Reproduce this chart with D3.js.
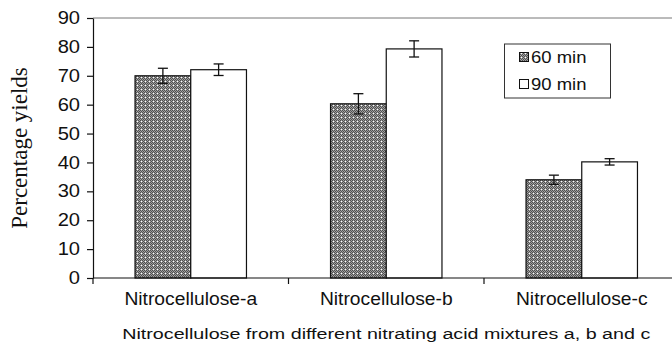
<!DOCTYPE html>
<html><head><meta charset="utf-8">
<script src="https://cdn.jsdelivr.net/npm/d3@7"></script>
<style>body{margin:0;background:#fff;}svg{display:block;}</style>
</head><body>
<svg id="c" width="672" height="343"></svg>
<script>
const categories = ["Nitrocellulose-a", "Nitrocellulose-b", "Nitrocellulose-c"];
const seriesNames = ["60 min", "90 min"];
const values60 = [70.0, 60.3, 34.0];
const values90 = [72.1, 79.3, 40.2];
const err60 = [2.6, 3.5, 1.6];
const err90 = [2.0, 2.8, 1.1];
const yTicks = [0, 10, 20, 30, 40, 50, 60, 70, 80, 90];
const yLabel = "Percentage yields";
const xLabel = "Nitrocellulose from different nitrating acid mixtures a, b and c";

(function () {
const svg = d3.select("#c");
const mLeft = 93, mRight = 679.5, mTop = 18, mBottom = 278;
const SANS = "Liberation Sans, Arial, sans-serif";

function stretch(sel, k) {
  sel.each(function () {
    const w = this.getComputedTextLength();
    d3.select(this).attr("textLength", w * k).attr("lengthAdjust", "spacingAndGlyphs");
  });
}

const defs = svg.append("defs");
const pat = defs.append("pattern").attr("id", "chk").attr("patternUnits", "userSpaceOnUse")
  .attr("width", 4).attr("height", 4);
pat.append("rect").attr("width", 4).attr("height", 4).attr("fill", "#a0a0a0");
[[0,0],[2,0],[1,1],[3,1],[0,2],[2,2],[1,3],[3,3]].forEach(([px,py]) =>
  pat.append("rect").attr("x", px).attr("y", py).attr("width", 1).attr("height", 1).attr("fill", "#505050"));
pat.append("rect").attr("x", 1).attr("y", 1).attr("width", 1).attr("height", 1).attr("fill", "#fff");

const x = d3.scaleBand().domain(categories).range([mLeft, mRight]).padding(0);
const bw = x.bandwidth();
const xs = d3.scaleBand().domain(seriesNames).range([bw * 0.215, bw * 0.785]).padding(0);
const y = d3.scaleLinear().domain([0, 90]).range([mBottom, mTop]);

svg.append("line").attr("x1", mLeft).attr("x2", 672).attr("y1", y(90)).attr("y2", y(90))
  .attr("stroke", "#777").attr("stroke-width", 1);

const fills = ["url(#chk)", "#fff"];
const vals = [values60, values90];
const errs = [err60, err90];

seriesNames.forEach((s, si) => {
  const g = svg.append("g");
  g.selectAll("rect").data(categories).join("rect")
    .attr("x", c => x(c) + xs(s))
    .attr("y", (c, i) => y(vals[si][i]))
    .attr("width", xs.bandwidth())
    .attr("height", (c, i) => y(0) - y(vals[si][i]))
    .attr("fill", fills[si]).attr("stroke", "#111").attr("stroke-width", 1.2);
  categories.forEach((c, i) => {
    const cx = x(c) + xs(s) + xs.bandwidth() / 2;
    const hi = y(vals[si][i] + errs[si][i]), lo = y(vals[si][i] - errs[si][i]);
    g.append("line").attr("x1", cx).attr("x2", cx).attr("y1", hi).attr("y2", lo).attr("stroke", "#111").attr("stroke-width", 1.3);
    [hi, lo].forEach(yy => g.append("line").attr("x1", cx - 5).attr("x2", cx + 5).attr("y1", yy).attr("y2", yy)
      .attr("stroke", "#111").attr("stroke-width", 1.3));
  });
});

const ya = svg.append("g").attr("transform", `translate(${mLeft},0)`)
  .call(d3.axisLeft(y).tickValues(yTicks).tickSize(6).tickPadding(7).tickSizeOuter(0));
ya.select(".domain").attr("stroke", "#111").attr("stroke-width", 1.2);
ya.selectAll(".tick line").attr("stroke", "#111").attr("stroke-width", 1.2);
ya.selectAll("text").attr("font-family", SANS).attr("font-size", 17.5).attr("fill", "#111");
stretch(ya.selectAll("text"), 1.15);

const xa = svg.append("g").attr("transform", `translate(0,${mBottom})`)
  .call(d3.axisBottom(x).tickSize(0).tickPadding(15).tickSizeOuter(0));
xa.select(".domain").remove();
svg.append("line").attr("x1", mLeft).attr("x2", 672).attr("y1", mBottom).attr("y2", mBottom)
  .attr("stroke", "#111").attr("stroke-width", 1.2);
const bounds = categories.map(c => x(c)).concat([x(categories[2]) + bw]);
svg.selectAll(".xt").data(bounds).join("line").attr("class", "xt")
  .attr("x1", d => d).attr("x2", d => d).attr("y1", mBottom).attr("y2", mBottom + 6)
  .attr("stroke", "#111").attr("stroke-width", 1.2);
xa.selectAll("text").attr("font-family", SANS).attr("font-size", 17.5).attr("fill", "#111");
stretch(xa.selectAll("text"), 1.1);

svg.append("text").attr("transform", `translate(27,${(mTop + mBottom) / 2}) rotate(-90)`)
  .attr("text-anchor", "middle").attr("font-family", "Liberation Serif, Times New Roman, serif")
  .attr("font-size", 23).attr("fill", "#111").text(yLabel);
const xt = svg.append("text").attr("x", (mLeft + mRight) / 2).attr("y", 339).attr("text-anchor", "middle")
  .attr("font-family", SANS).attr("font-size", 15.5).attr("fill", "#111").text(xLabel);
xt.attr("textLength", 528).attr("lengthAdjust", "spacingAndGlyphs");

const lg = svg.append("g");
lg.append("rect").attr("x", 504.5).attr("y", 44).attr("width", 106).attr("height", 54)
  .attr("fill", "#fff").attr("stroke", "#333").attr("stroke-width", 1);
seriesNames.forEach((s, i) => {
  const yy = 57 + i * 27;
  lg.append("rect").attr("x", 519.5).attr("y", yy - 4.5).attr("width", 9).attr("height", 9)
    .attr("fill", fills[i]).attr("stroke", "#111").attr("stroke-width", 1);
  const t = lg.append("text").attr("x", 531).attr("y", yy + 6).attr("font-family", SANS)
    .attr("font-size", 16.5).attr("fill", "#111").text(s);
  stretch(t, 1.12);
});
})();
</script>
</body></html>
